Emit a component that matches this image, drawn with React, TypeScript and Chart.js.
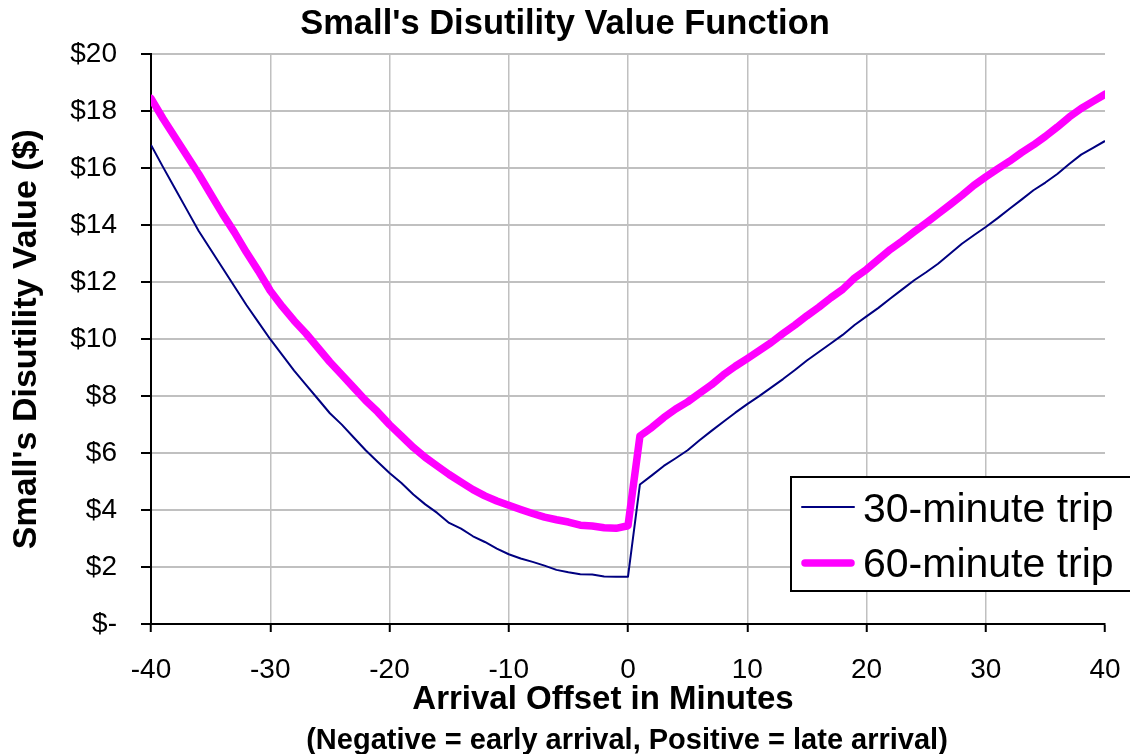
import React, { useEffect, useRef } from 'react';
import { Chart, registerables } from 'chart.js';

Chart.register(...registerables);

const FONT = "'Liberation Sans', Arial, Helvetica, sans-serif";

const chartTitle = "Small's Disutility Value Function";
const yAxisTitle = "Small's Disutility Value ($)";
const xAxisTitleLines = ['Arrival Offset in Minutes', '(Negative = early arrival, Positive = late arrival)'];
const seriesLabels = ['30-minute trip', '60-minute trip'];
const seriesColors = ['#000080', '#FF00FF'];

const minutes = [
  -40, -39, -38, -37, -36, -35, -34, -33, -32, -31,
  -30, -29, -28, -27, -26, -25, -24, -23, -22, -21,
  -20, -19, -18, -17, -16, -15, -14, -13, -12, -11,
  -10, -9, -8, -7, -6, -5, -4, -3, -2, -1,
  0, 1, 2, 3, 4, 5, 6, 7, 8, 9,
  10, 11, 12, 13, 14, 15, 16, 17, 18, 19,
  20, 21, 22, 23, 24, 25, 26, 27, 28, 29,
  30, 31, 32, 33, 34, 35, 36, 37, 38, 39,
  40,
];

const trip30 = [
  16.82, 16.05, 15.3, 14.55, 13.8, 13.15, 12.5, 11.85, 11.2, 10.6,
  10.0, 9.45, 8.9, 8.4, 7.9, 7.4, 7.0, 6.55, 6.1, 5.7,
  5.3, 4.95, 4.55, 4.2, 3.9, 3.55, 3.35, 3.08, 2.88, 2.65,
  2.45, 2.3, 2.18, 2.05, 1.9, 1.82, 1.75, 1.74, 1.67, 1.66,
  1.66, 4.9, 5.22, 5.55, 5.82, 6.1, 6.45, 6.78, 7.1, 7.42,
  7.72, 8.0, 8.3, 8.6, 8.92, 9.25, 9.55, 9.85, 10.15, 10.5,
  10.8, 11.1, 11.43, 11.75, 12.07, 12.35, 12.65, 13.0, 13.35, 13.65,
  13.94, 14.25, 14.58, 14.9, 15.23, 15.5, 15.8, 16.15, 16.48, 16.72,
  16.96,
];

const trip60 = [
  18.45, 17.75, 17.1, 16.45, 15.8, 15.1, 14.4, 13.75, 13.05, 12.4,
  11.7, 11.15, 10.65, 10.2, 9.7, 9.2, 8.75, 8.3, 7.85, 7.45,
  7.0, 6.6, 6.2, 5.85, 5.55, 5.25, 4.98, 4.72, 4.5, 4.32,
  4.17, 4.02, 3.88, 3.75, 3.66, 3.58, 3.47, 3.44, 3.38, 3.36,
  3.45, 6.6, 6.9, 7.25, 7.55, 7.8, 8.1, 8.4, 8.75, 9.05,
  9.32, 9.6, 9.88, 10.2, 10.5, 10.82, 11.12, 11.45, 11.75, 12.15,
  12.45, 12.8, 13.15, 13.45, 13.77, 14.08, 14.4, 14.72, 15.05, 15.4,
  15.7, 15.98, 16.25, 16.55, 16.82, 17.12, 17.45, 17.8, 18.1, 18.35,
  18.6,
];

const xMin = -40;
const xMax = 40;
const xStep = 10;
const yMin = 0;
const yMax = 20;
const yStep = 2;

const overlayPlugin = {
  id: 'overlay',
  afterDraw(chart: any) {
    const ctx = chart.ctx;
    ctx.save();
    // x-axis title (two lines)
    ctx.fillStyle = '#000';
    ctx.textAlign = 'center';
    ctx.textBaseline = 'alphabetic';
    ctx.font = `bold 33px ${FONT}`;
    ctx.fillText(xAxisTitleLines[0], 603, 709);
    ctx.font = `bold 29px ${FONT}`;
    ctx.fillText(xAxisTitleLines[1], 627, 749);

    // legend box inside plot
    const bx = 791, by = 477, bw = 345, bh = 114;
    ctx.fillStyle = '#fff';
    ctx.fillRect(bx, by, bw, bh);
    ctx.strokeStyle = '#000';
    ctx.lineWidth = 2;
    ctx.strokeRect(bx, by, bw, bh);
    const rowsY = [507, 563];
    const baseY = [521.5, 577];
    chart.data.datasets.forEach((ds: any, i: number) => {
      ctx.beginPath();
      ctx.strokeStyle = ds.borderColor;
      ctx.lineWidth = ds.borderWidth;
      ctx.lineCap = 'round';
      const pad = ds.borderWidth > 3 ? 3 : 0;
      ctx.moveTo(802 + pad, rowsY[i]);
      ctx.lineTo(854 - pad, rowsY[i]);
      ctx.stroke();
      ctx.fillStyle = '#000';
      ctx.textAlign = 'left';
      ctx.textBaseline = 'alphabetic';
      ctx.font = `41px ${FONT}`;
      ctx.fillText(ds.label, 863, baseY[i]);
    });
    ctx.restore();
  },
};

export default function App() {
  const canvasRef = useRef<HTMLCanvasElement | null>(null);

  useEffect(() => {
    if (!canvasRef.current) return;
    const chart = new Chart(canvasRef.current, {
      type: 'line',
      data: {
        datasets: [
          {
            label: seriesLabels[0],
            data: minutes.map((m, i) => ({ x: m, y: trip30[i] })),
            borderColor: seriesColors[0],
            backgroundColor: seriesColors[0],
            borderWidth: 2,
            pointRadius: 0,
            tension: 0,
            borderJoinStyle: 'round',
          },
          {
            label: seriesLabels[1],
            data: minutes.map((m, i) => ({ x: m, y: trip60[i] })),
            borderColor: seriesColors[1],
            backgroundColor: seriesColors[1],
            borderWidth: 7.5,
            pointRadius: 0,
            tension: 0,
            borderJoinStyle: 'round',
            borderCapStyle: 'round',
          },
        ],
      },
      options: {
        animation: false,
        responsive: false,
        maintainAspectRatio: false,
        layout: { padding: { left: 0, right: 0, top: 0, bottom: 0 } },
        plugins: {
          legend: { display: false },
          tooltip: { enabled: false },
          title: {
            display: true,
            text: chartTitle,
            color: '#000',
            font: { family: FONT, size: 34.5, weight: 'bold' },
            padding: { top: 4, bottom: 9 },
          },
        },
        scales: {
          x: {
            type: 'linear',
            min: xMin,
            max: xMax,
            afterFit: (scale: any) => {
              scale.height = 130;
              scale.paddingLeft = 0;
              scale.paddingRight = 25;
            },
            ticks: {
              stepSize: xStep,
              color: '#000',
              font: { family: FONT, size: 28 },
              padding: 21,
              maxRotation: 0,
            },
            grid: {
              color: (c: any) => (c.tick && c.tick.value === xMax ? 'rgba(0,0,0,0)' : '#c0c0c0'),
              lineWidth: 1.5,
              tickColor: '#000',
              tickLength: 8,
              tickWidth: 2,
            },
            border: { color: '#000', width: 2 },
          },
          y: {
            min: yMin,
            max: yMax,
            afterFit: (scale: any) => {
              scale.width = 151;
            },
            ticks: {
              stepSize: yStep,
              color: '#000',
              font: { family: FONT, size: 28 },
              padding: 24,
              callback: (v: any) => (v === 0 ? '$-' : '$' + v),
            },
            grid: {
              color: '#c0c0c0',
              lineWidth: 2,
              tickColor: '#000',
              tickLength: 10,
              tickWidth: 2,
            },
            border: { color: '#000', width: 2 },
            title: {
              display: true,
              text: yAxisTitle,
              color: '#000',
              font: { family: FONT, size: 34, weight: 'bold' },
              padding: { top: 6, bottom: 0 },
            },
          },
        },
      },
      plugins: [overlayPlugin],
    });
    return () => chart.destroy();
  }, []);

  return (
    <div style={{ position: 'absolute', left: 0, top: 0, width: 1130, height: 754, background: '#fff' }}>
      <canvas ref={canvasRef} width={1130} height={754} style={{ display: 'block' }} />
    </div>
  );
}
